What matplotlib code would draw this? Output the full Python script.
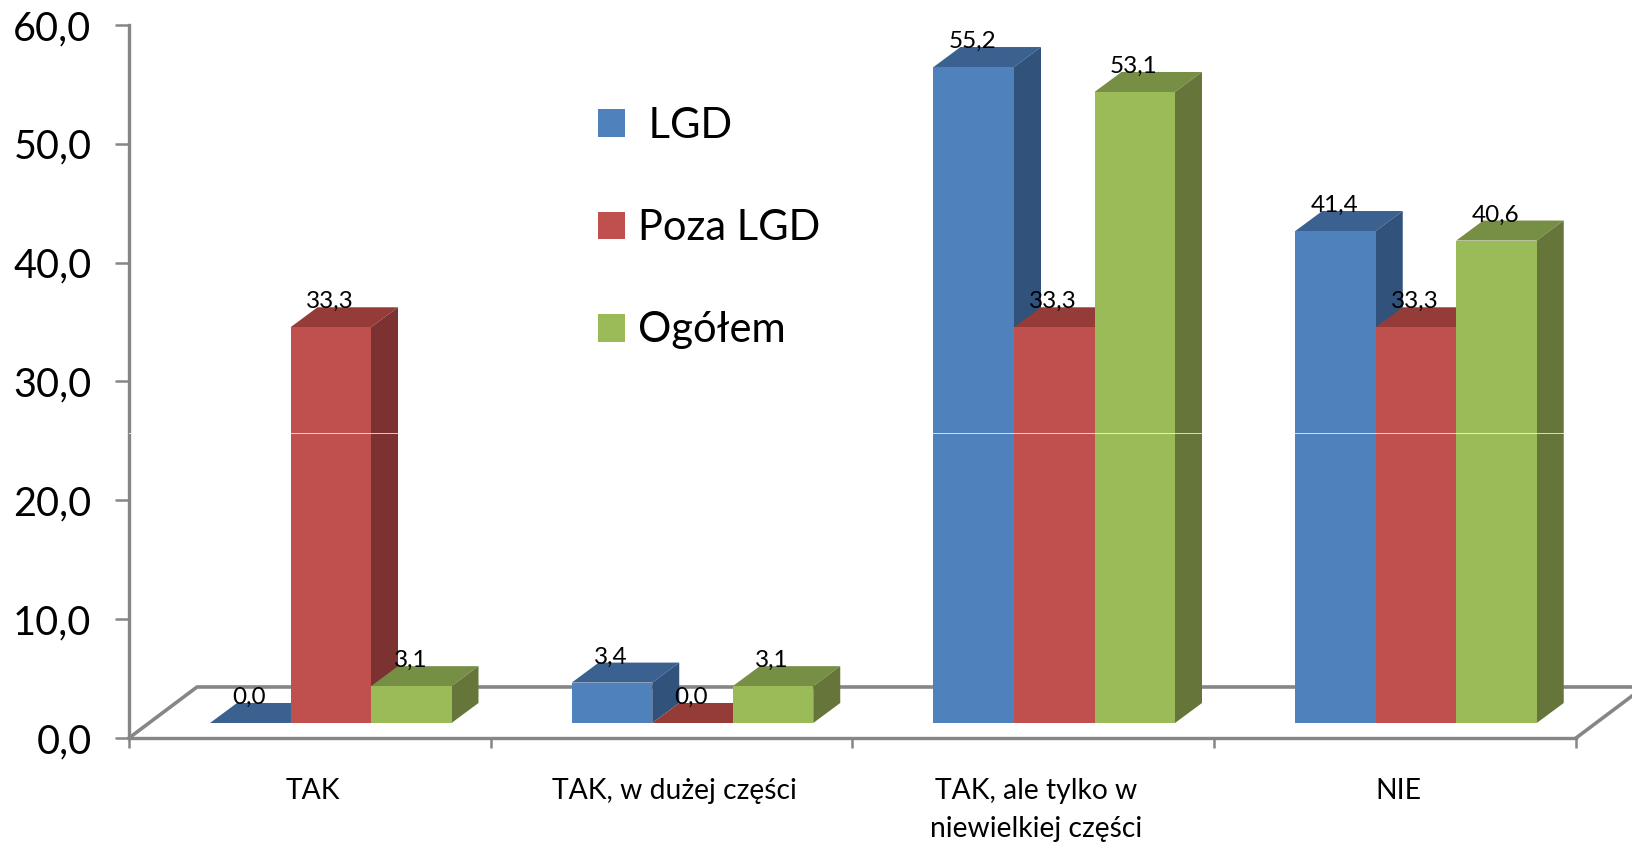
import matplotlib
matplotlib.use('Agg')
import matplotlib.pyplot as plt
from matplotlib.patches import Patch

plt.rcParams['font.family'] = ['Lato', 'DejaVu Sans']

categories = ['TAK', 'TAK, w dużej części', 'TAK, ale tylko w\nniewielkiej części', 'NIE']
series_names = [' LGD', 'Poza LGD', 'Ogółem']
lgd = [0.0, 3.4, 55.2, 41.4]
poza_lgd = [33.3, 0.0, 33.3, 33.3]
ogolem = [3.1, 3.1, 53.1, 40.6]
front_colors = ['#4F81BD', '#C0504D', '#9BBB59']
top_colors = ['#3A6190', '#953B38', '#778F45']
side_colors = ['#31527A', '#7B3230', '#66763A']

W, H = 1632, 846
fig = plt.figure(figsize=(W / 100, H / 100), dpi=100)
ax = fig.add_axes([129 / W, (H - 738) / H, (1576 - 129) / W, (738 - 25) / H])
ax.set_xlim(0, 4)
ax.set_ylim(0, 60)

# pseudo 3D sizes, in axis units
bar_w = 80.5 / 361.75
start = 81 / 361.75
dep_x = 27 / 361.75
dep_y = 20 / 11.88
base = 15 / 11.88
floor_x = 68 / 361.75
floor_y = 51 / 11.88

grey = '#868686'
ax.plot([0, floor_x, 4 + floor_x], [0, floor_y, floor_y], color=grey, lw=2.6, zorder=1, clip_on=False)
ax.plot([4, 4 + floor_x], [0, floor_y], color=grey, lw=2.6, zorder=1, clip_on=False)

for s, vals in enumerate([lgd, poza_lgd, ogolem]):
    z = 2 + s
    xs = [i + start + bar_w * s for i in range(len(vals))]
    ax.bar(xs, vals, width=bar_w, bottom=base, align='edge', color=front_colors[s], lw=0, zorder=z + 0.2)
    for x, v in zip(xs, vals):
        t = base + v
        ax.fill([x, x + bar_w, x + bar_w + dep_x, x + dep_x], [t, t, t + dep_y, t + dep_y],
                color=top_colors[s], lw=0, zorder=z + 0.1, clip_on=False)
        ax.fill([x + bar_w, x + bar_w + dep_x, x + bar_w + dep_x, x + bar_w],
                [base, base + dep_y, t + dep_y, t], color=side_colors[s], lw=0, zorder=z + 0.1, clip_on=False)
        ax.annotate(f'{v:.1f}'.replace('.', ','), (x + bar_w / 2, t), xytext=(-0.7, 25.5 * 0.72),
                    textcoords='offset points', ha='center', va='center', fontsize=17.5, color='black',
                    zorder=10, annotation_clip=False)

# thin light line that runs across the columns
ax.axhline(25.65, color='#ffffff', lw=0.7, alpha=0.75, zorder=9)

for sp in ['top', 'right']:
    ax.spines[sp].set_visible(False)
for sp in ['left', 'bottom']:
    ax.spines[sp].set_color(grey)
    ax.spines[sp].set_linewidth(2.4)

ax.set_yticks(range(0, 70, 10))
ax.set_yticklabels([f'{v:.1f}'.replace('.', ',') for v in range(0, 70, 10)], fontsize=28.5)
ax.tick_params(axis='y', length=10, width=1.8, color=grey, pad=17)
ax.set_xticks(range(5))
ax.set_xticklabels([])
ax.tick_params(axis='x', length=7, width=1.8, color=grey)
for i, c in enumerate(categories):
    ax.annotate(c, (i + 0.508, 0), xytext=(0, -(778 - 738) * 0.72), textcoords='offset points',
                ha='center', va='top', fontsize=20.3, linespacing=1.58, annotation_clip=False)

handles = [Patch(color=c, lw=0) for c in front_colors]
leg = ax.legend(handles, series_names, loc='upper left', bbox_to_anchor=((598 - 129) / (1576 - 129), (738 - 107) / (738 - 25)),
                frameon=False, fontsize=30, handlelength=0.65, handleheight=0.65, handletextpad=0.3,
                labelspacing=1.54, borderpad=0, borderaxespad=0)
leg.set_zorder(12)

fig.savefig('out.png', dpi=100)
